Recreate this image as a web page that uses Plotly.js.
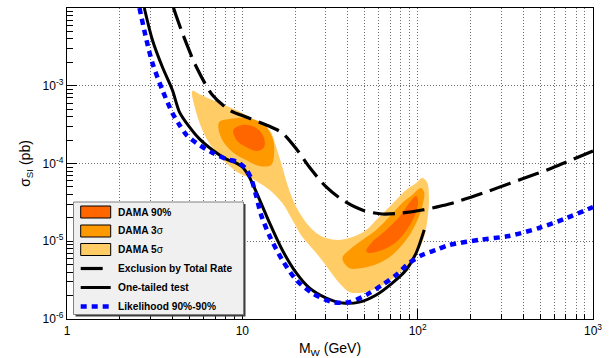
<!DOCTYPE html>
<html><head><meta charset="utf-8">
<script src="https://cdn.plot.ly/plotly-3.0.1.min.js"></script>
<style>html,body{margin:0;padding:0;background:#fff}#chart{width:614px;height:358px}</style>
</head><body><div id="chart"></div>
<script>
// ---------- data (M_W in GeV, sigma_SI in pb) ----------
const massTotalRate = [4.05, 4.55, 5.47, 6.75, 8.43, 10.5, 13.7, 16.9, 20.3, 24.1, 30.1, 37.2, 48.3, 62.8, 81.6, 106, 151, 255, 379, 584, 1000];
const sigmaTotalRate = [1.0e-2, 4.76e-3, 1.74e-3, 7.6e-4, 4.88e-4, 3.96e-4, 3.13e-4, 2.47e-4, 1.55e-4, 9.0e-5, 4.99e-5, 3.40e-5, 2.52e-5, 2.24e-5, 2.31e-5, 2.52e-5, 3.01e-5, 4.43e-5, 6.13e-5, 8.75e-5, 1.45e-4];

const massOneTailed = [2.76, 3.07, 3.50, 3.99, 4.38, 4.99, 5.69, 6.75, 8.11, 9.25, 10.0, 10.96, 12.5, 14.3, 16.9, 20.3, 24.1, 30.1, 37.2, 46.4, 58.0, 71.6, 85.9, 98.0, 109];
const sigmaOneTailed = [1.0e-2, 3.88e-3, 1.74e-3, 8.81e-4, 4.59e-4, 2.95e-4, 2.07e-4, 1.49e-4, 1.14e-4, 1.01e-4, 9.02e-5, 6.70e-5, 3.49e-5, 1.72e-5, 7.71e-6, 3.91e-6, 2.51e-6, 1.86e-6, 1.61e-6, 1.65e-6, 2.04e-6, 2.90e-6, 4.27e-6, 7.06e-6, 1.40e-5];

const massLikelihood = [2.59, 2.84, 3.07, 3.50, 3.99, 4.38, 4.80, 5.47, 6.75, 8.11, 9.37, 10.5, 11.25, 12.0, 12.8, 14.3, 16.9, 20.3, 25.0, 32.6, 40.7, 50.9, 62.8, 75.4, 89.5, 106, 127, 151, 224, 332, 492, 684, 1000];
const sigmaLikelihood = [1.0e-2, 3.88e-3, 1.96e-3, 8.81e-4, 4.47e-4, 3.13e-4, 2.33e-4, 1.84e-4, 1.37e-4, 1.14e-4, 1.05e-4, 8.5e-5, 6.32e-5, 3.82e-5, 2.18e-5, 1.17e-5, 5.74e-6, 3.18e-6, 2.16e-6, 1.65e-6, 1.65e-6, 2.04e-6, 2.74e-6, 3.68e-6, 5.25e-6, 6.65e-6, 7.71e-6, 8.95e-6, 1.04e-5, 1.17e-5, 1.48e-5, 1.93e-5, 2.76e-5];

// DAMA allowed regions (contour outlines)
const mass5s = [5.19, 5.47, 5.92, 6.48, 8.11, 10.0, 10.96, 12.5, 14.3, 16.9, 19.3, 22.0, 26.4, 31.3, 35.7, 40.7, 46.4, 55.0, 66.2, 78.5, 93.0, 106, 113, 116, 113, 106, 98.0, 85.9, 75.4, 66.2, 58.0, 50.9, 42.4, 35.7, 30.1, 26.4, 23.2, 20.3, 18.5, 16.9, 15.6, 14.3, 12.5, 10.5, 8.43, 6.75, 5.69];
const sigma5s = [8.55e-4, 4.47e-4, 2.70e-4, 1.84e-4, 1.01e-4, 7.12e-5, 6.70e-5, 5.61e-5, 4.56e-5, 3.10e-5, 1.88e-5, 1.13e-5, 7.06e-6, 4.27e-6, 2.90e-6, 2.23e-6, 2.16e-6, 2.36e-6, 2.90e-6, 3.91e-6, 5.74e-6, 9.49e-6, 1.72e-5, 3.71e-5, 5.78e-5, 6.51e-5, 5.61e-5, 4.56e-5, 3.40e-5, 2.52e-5, 1.88e-5, 1.40e-5, 1.13e-5, 1.04e-5, 1.10e-5, 1.28e-5, 1.72e-5, 2.76e-5, 4.56e-5, 9.02e-5, 1.63e-4, 2.70e-4, 3.32e-4, 4.21e-4, 5.33e-4, 6.56e-4, 7.8e-4];

const mass3sLow = [7.30, 7.39, 8.43, 10.5, 13.0, 14.8, 15.2, 14.6, 12.5, 10.5, 8.77, 7.69];
const sigma3sLow = [2.86e-4, 3.42e-4, 3.73e-4, 3.85e-4, 3.32e-4, 2.19e-4, 1.49e-4, 9.57e-5, 9.29e-5, 1.11e-4, 1.41e-4, 2.01e-4];
const mass3sHigh = [37.2, 40.7, 48.3, 58.0, 68.8, 81.6, 93.0, 104.7, 109, 106, 98.0, 85.9, 71.6, 60.4, 48.3, 40.7];
const sigma3sHigh = [6.10e-6, 7.71e-6, 1.04e-5, 1.40e-5, 2.05e-5, 3.10e-5, 3.94e-5, 4.84e-5, 4.18e-5, 2.76e-5, 1.72e-5, 1.04e-5, 6.65e-6, 5.25e-6, 4.53e-6, 4.53e-6];

const mass90Low = [8.89, 10.0, 12.0, 13.3, 13.3, 12.2, 10.5, 9.25];
const sigma90Low = [2.70e-4, 3.13e-4, 2.86e-4, 2.13e-4, 1.63e-4, 1.45e-4, 1.63e-4, 2.01e-4];
const mass90High = [50.9, 55.0, 66.2, 78.5, 89.5, 98.0, 100.7, 95.5, 85.9, 75.4, 62.8, 52.9];
const sigma90High = [7.49e-6, 9.78e-6, 1.40e-5, 2.05e-5, 3.10e-5, 3.82e-5, 3.20e-5, 2.05e-5, 1.36e-5, 9.78e-6, 7.71e-6, 7.06e-6];

const legendLabels = ['DAMA 90%', 'DAMA 3<span style="font-weight:normal">σ</span>', 'DAMA 5<span style="font-weight:normal">σ</span>',
                      'Exclusion by Total Rate', 'One-tailed test', 'Likelihood 90%-90%'];

const xTickVals = [1, 10, 100, 1000];
const xTickText = ['1', '10', '10<sup>2</sup>', '10<sup>3</sup>'];
const yTickVals = [1e-6, 1e-5, 1e-4, 1e-3, 1e-2];
const yTickText = ['10<sup>-6</sup>', '10<sup>-5</sup>', '10<sup>-4</sup>', '10<sup>-3</sup>', '10<sup>-2</sup>'];

// ---------- styling ----------
const C90 = '#ff6600', C3 = '#ff9900', C5 = '#ffcc66';
const BLUE = '#0000ff';
const FONT = 'Liberation Sans, Arial, Helvetica, sans-serif';
const M = {l: 67, r: 21, t: 8, b: 39};
const W = 614, H = 358, PW = W - M.l - M.r, PH = H - M.t - M.b;
const px = v => (v - M.l) / PW;
const py = v => (H - M.b - v) / PH;

function minorVals(decades) {
  const out = [];
  decades.forEach(d => { for (let k = 2; k <= 9; k++) out.push(k * d); });
  return out;
}

function region(x, y, color) {
  return {x: x.concat([x[0]]), y: y.concat([y[0]]), type: 'scatter', mode: 'lines', fill: 'toself',
          fillcolor: color, line: {width: 0, shape: 'spline', smoothing: 1}, hoverinfo: 'skip', showlegend: false};
}

const dashTotal = {color: '#000', width: 3.2, dash: '22px,8px'};
const lineOneTailed = {color: '#000', width: 3};
const dotLikelihood = {color: BLUE, width: 4.5, dash: '6px,5px'};

const traces = [
  region(mass5s, sigma5s, C5),
  region(mass3sLow, sigma3sLow, C3),
  region(mass3sHigh, sigma3sHigh, C3),
  region(mass90Low, sigma90Low, C90),
  region(mass90High, sigma90High, C90),
  {x: massTotalRate, y: sigmaTotalRate, type: 'scatter', mode: 'lines', showlegend: false,
   line: Object.assign({shape: 'spline', smoothing: 0.8}, dashTotal)},
  {x: massOneTailed, y: sigmaOneTailed, type: 'scatter', mode: 'lines', showlegend: false,
   line: Object.assign({shape: 'spline', smoothing: 0.8}, lineOneTailed)},
  {x: massLikelihood, y: sigmaLikelihood, type: 'scatter', mode: 'lines', showlegend: false,
   line: Object.assign({shape: 'spline', smoothing: 0.8}, dotLikelihood)}
];

// ---------- hand-built ROOT-style legend ----------
const legL = 73.5, legR = 243.5, legT = 202, legB = 314.5;
const rowY = [212, 231, 249.5, 268.5, 287.5, 306.5];
const symL = 80.7, symR = 110.7, textX = 115.5;
const shapes = [
  {type: 'rect', xref: 'paper', yref: 'paper', x0: px(legL + 2), x1: px(legR + 2), y0: py(legB + 2), y1: py(legT + 2),
   fillcolor: '#3c3c3c', line: {width: 0}, layer: 'above'},
  {type: 'rect', xref: 'paper', yref: 'paper', x0: px(legL), x1: px(legR), y0: py(legB), y1: py(legT),
   fillcolor: '#f0f0f0', line: {color: '#808080', width: 1}, layer: 'above'}
];
[C90, C3, C5].forEach((c, i) => shapes.push({type: 'rect', xref: 'paper', yref: 'paper', layer: 'above',
  x0: px(symL), x1: px(symR), y0: py(rowY[i] + 6), y1: py(rowY[i] - 6), fillcolor: c, line: {color: '#000', width: 1}}));
[dashTotal, lineOneTailed, dotLikelihood].forEach((ln, j) => shapes.push({type: 'line', xref: 'paper', yref: 'paper', layer: 'above',
  x0: px(symL), x1: px(symR), y0: py(rowY[3 + j]), y1: py(rowY[3 + j]), line: ln}));

const annotations = legendLabels.map((t, i) => ({
  xref: 'paper', yref: 'paper', x: px(textX), y: py(rowY[i]), xanchor: 'left', yanchor: 'middle',
  text: '<b>' + t + '</b>', showarrow: false, font: {family: FONT, size: 10.2, color: '#000'}
}));

const axisCommon = {
  type: 'log', showline: true, linecolor: '#000', linewidth: 1.2, mirror: true,
  ticks: 'inside', ticklen: 10, tickwidth: 1, tickcolor: '#000', zeroline: false,
  tickmode: 'array', tickfont: {family: FONT, size: 12, color: '#000'},
  showgrid: true, gridcolor: '#6e6e6e', gridwidth: 1, griddash: '1px,2px'
};

const layout = {
  width: W, height: H, margin: M, paper_bgcolor: '#fff', plot_bgcolor: '#fff',
  font: {family: FONT, color: '#000'}, showlegend: false,
  xaxis: Object.assign({}, axisCommon, {
    range: [0, 3], tickvals: xTickVals, ticktext: xTickText,
    minor: {tickmode: 'array', tickvals: minorVals([1, 10, 100]), ticks: 'inside', ticklen: 5, tickcolor: '#000',
            showgrid: true, gridcolor: '#6e6e6e', gridwidth: 1, griddash: '1px,2px'},
    title: {text: 'M<sub>W</sub> (GeV)', font: {family: FONT, size: 14}, standoff: 6}
  }),
  yaxis: Object.assign({}, axisCommon, {
    range: [-6, -2], tickvals: yTickVals, ticktext: yTickText,
    minor: {tickmode: 'array', tickvals: minorVals([1e-6, 1e-5, 1e-4, 1e-3]), ticks: 'inside', ticklen: 6, tickcolor: '#000', showgrid: false},
    title: {text: 'σ<sub>SI</sub> (pb)', font: {family: FONT, size: 14}, standoff: 8}
  }),
  shapes: shapes, annotations: annotations
};

Plotly.newPlot('chart', traces, layout, {staticPlot: true, displayModeBar: false});
</script></body></html>
